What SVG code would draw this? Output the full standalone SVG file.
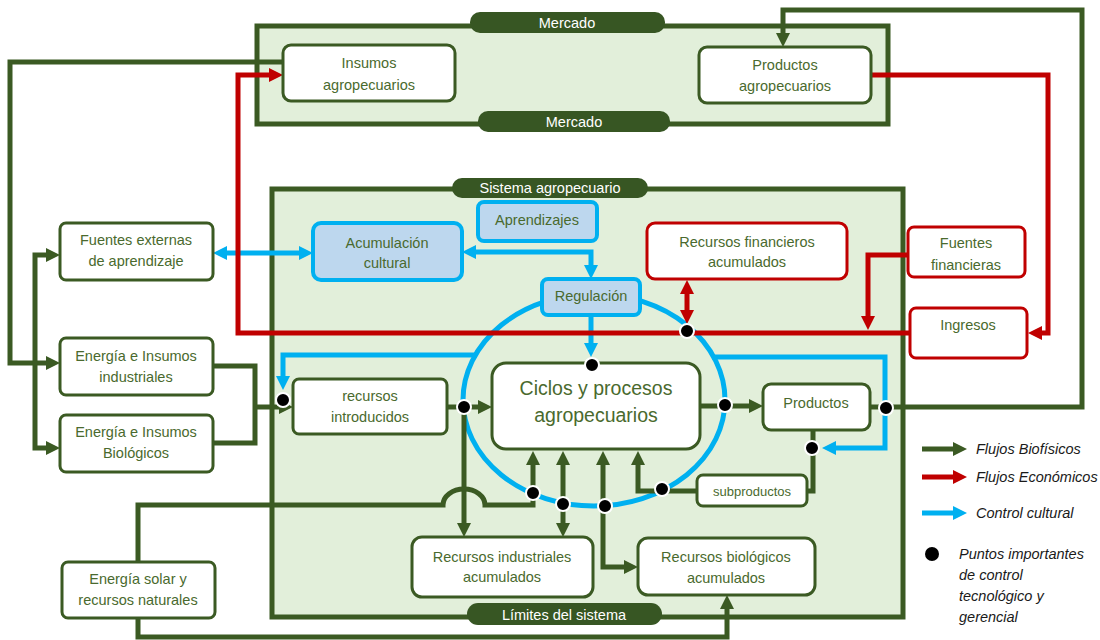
<svg xmlns="http://www.w3.org/2000/svg" width="1100" height="640" viewBox="0 0 1100 640">
<defs>
<style>
.cont{fill:#e2efda;stroke:#3b5a23;stroke-width:5}
.pill{fill:#375623}
.pt{font-family:"Liberation Sans",Arial,sans-serif;font-size:14.5px;fill:#ffffff;text-anchor:middle;dominant-baseline:central}
.gb{fill:#ffffff;stroke:#3b5a23;stroke-width:3}
.rb{fill:#ffffff;stroke:#c00000;stroke-width:3}
.bb{fill:#bdd7ee;stroke:#00b0f0;stroke-width:4}
.t{font-family:"Liberation Sans",Arial,sans-serif;font-size:14.5px;fill:#4a6a2e;text-anchor:middle;dominant-baseline:central}
.big{font-size:19.5px}
.sm{font-size:13px}
.lg{font-family:"Liberation Sans",Arial,sans-serif;font-size:14.5px;font-style:italic;fill:#1a1a1a;dominant-baseline:central}
.g{fill:none;stroke:#3b5a23;stroke-width:5}
.r{fill:none;stroke:#c00000;stroke-width:5}
.b{fill:none;stroke:#00b0f0;stroke-width:5}
.dot{fill:#000000;stroke:#ffffff;stroke-width:2}
</style>
<marker id="ag" viewBox="0 0 14 14" refX="4" refY="7" markerWidth="14" markerHeight="14" markerUnits="userSpaceOnUse" orient="auto-start-reverse"><path d="M0,0 L14,7 L0,14 z" fill="#3b5a23"/></marker>
<marker id="ar" viewBox="0 0 14 14" refX="4" refY="7" markerWidth="14" markerHeight="14" markerUnits="userSpaceOnUse" orient="auto-start-reverse"><path d="M0,0 L14,7 L0,14 z" fill="#c00000"/></marker>
<marker id="ab" viewBox="0 0 14 14" refX="4" refY="7" markerWidth="14" markerHeight="14" markerUnits="userSpaceOnUse" orient="auto-start-reverse"><path d="M0,0 L14,7 L0,14 z" fill="#00b0f0"/></marker>
</defs>
<rect width="1100" height="640" fill="#ffffff"/>

<g id="mercado">
<rect class="cont" x="257" y="26" width="631" height="98"/>
<rect class="pill" x="470" y="12" width="195" height="21" rx="10"/>
<text class="pt" x="567" y="22.5">Mercado</text>
<rect class="pill" x="478" y="111" width="192" height="21" rx="10"/>
<text class="pt" x="574" y="121.5">Mercado</text>
</g>
<g id="sistema">
<rect class="cont" x="272" y="189" width="631" height="428"/>
</g>

<g id="connectors">
<ellipse class="b" cx="594" cy="400" rx="131" ry="106"/>
<path class="b" d="M223,253 H303" marker-start="url(#ab)" marker-end="url(#ab)"/>
<path class="b" d="M472,252 H591 V269" marker-start="url(#ab)" marker-end="url(#ab)"/>
<path class="b" d="M591,315 V347" marker-end="url(#ab)"/>
<path class="b" d="M477,355 H283 V380" marker-end="url(#ab)"/>
<path class="b" d="M712,357 H885 V448 H832" marker-end="url(#ab)"/>

<path class="r" d="M872,75 H1048 V333 H1038" marker-end="url(#ar)"/>
<path class="r" d="M910,333 H238 V75 H273" marker-end="url(#ar)"/>
<path class="r" d="M908,255 H868 V320" marker-end="url(#ar)"/>
<path class="r" d="M687,290 V314" marker-start="url(#ar)" marker-end="url(#ar)"/>

<path class="g" d="M283,62 H10 V363 H50" marker-end="url(#ag)"/>
<path class="g" d="M50,255 H35 V448 H50" marker-start="url(#ag)" marker-end="url(#ag)"/>
<path class="g" d="M213,366 H255 V443 H213"/>
<path class="g" d="M255,407 H283" marker-end="url(#ag)"/>
<path class="g" d="M447,407 H482" marker-end="url(#ag)"/>
<path class="g" d="M464,407 V527" marker-end="url(#ag)"/>
<path class="g" d="M138,562 V505 H443 A21,16 0 0 1 485,505 H533 V461" marker-end="url(#ag)"/>
<path class="g" d="M563,461 V527" marker-start="url(#ag)" marker-end="url(#ag)"/>
<path class="g" d="M603,461 V567 H628" marker-start="url(#ag)" marker-end="url(#ag)"/>
<path class="g" d="M697,491 H638 V461" marker-end="url(#ag)"/>
<path class="g" d="M813,430 V491 H807"/>
<path class="g" d="M700,406 H753" marker-end="url(#ag)"/>
<path class="g" d="M870,407 H1082 V10 H783 V37" marker-end="url(#ag)"/>
<path class="g" d="M138,618 V637 H727 V605" marker-end="url(#ag)"/>
</g>

<g id="pill-sistema">
<rect class="pill" x="452" y="178" width="196" height="20" rx="10"/>
<text class="pt" x="550" y="187.5">Sistema agropecuario</text>
</g>
<g id="pill-limites">
<rect class="pill" x="467" y="603" width="195" height="22" rx="11"/>
<text class="pt" x="564" y="614.5">Límites del sistema</text>
</g>

<g id="insumos-agro">
<rect class="gb" x="283" y="45" width="172" height="56" rx="8"/>
<text class="t" x="369" y="63">Insumos</text>
<text class="t" x="369" y="85">agropecuarios</text>
</g>
<g id="productos-agro">
<rect class="gb" x="699" y="47" width="172" height="56" rx="8"/>
<text class="t" x="785" y="65">Productos</text>
<text class="t" x="785" y="86">agropecuarios</text>
</g>
<g id="fuentes-externas">
<rect class="gb" x="60" y="223" width="153" height="57" rx="6"/>
<text class="t" x="136" y="240">Fuentes externas</text>
<text class="t" x="136" y="261">de aprendizaje</text>
</g>
<g id="energia-industriales">
<rect class="gb" x="60" y="338" width="153" height="57" rx="6"/>
<text class="t" x="136" y="356">Energía e Insumos</text>
<text class="t" x="136" y="377">industriales</text>
</g>
<g id="energia-biologicos">
<rect class="gb" x="60" y="415" width="153" height="57" rx="6"/>
<text class="t" x="136" y="432">Energía e Insumos</text>
<text class="t" x="136" y="453">Biológicos</text>
</g>
<g id="energia-solar">
<rect class="gb" x="62" y="562" width="153" height="56" rx="6"/>
<text class="t" x="138" y="579">Energía solar y</text>
<text class="t" x="138" y="600">recursos naturales</text>
</g>
<g id="acumulacion">
<rect class="bb" x="313" y="223" width="149" height="57" rx="8"/>
<text class="t" x="387" y="243">Acumulación</text>
<text class="t" x="387" y="263">cultural</text>
</g>
<g id="aprendizajes">
<rect class="bb" x="478" y="202" width="119" height="39" rx="6"/>
<text class="t" x="537" y="220">Aprendizajes</text>
</g>
<g id="regulacion">
<rect class="bb" x="542" y="279" width="98" height="36" rx="6"/>
<text class="t" x="591" y="296">Regulación</text>
</g>
<g id="recursos-financieros">
<rect class="rb" x="647" y="223" width="200" height="56" rx="8"/>
<text class="t" x="747" y="242">Recursos financieros</text>
<text class="t" x="747" y="262">acumulados</text>
</g>
<g id="fuentes-financieras">
<rect class="rb" x="908" y="227" width="117" height="50" rx="6"/>
<text class="t" x="966" y="243">Fuentes</text>
<text class="t" x="966" y="265">financieras</text>
</g>
<g id="ingresos">
<rect class="rb" x="910" y="308" width="117" height="50" rx="6"/>
<text class="t" x="968" y="325">Ingresos</text>
</g>
<g id="recursos-introducidos">
<rect class="gb" x="293" y="379" width="154" height="55" rx="6"/>
<text class="t" x="370" y="396">recursos</text>
<text class="t" x="370" y="417">introducidos</text>
</g>
<g id="ciclos">
<rect class="gb" x="492" y="363" width="208" height="86" rx="14"/>
<text class="t big" x="596" y="388">Ciclos y procesos</text>
<text class="t big" x="596" y="415">agropecuarios</text>
</g>
<g id="productos">
<rect class="gb" x="763" y="384" width="107" height="46" rx="8"/>
<text class="t" x="816" y="403">Productos</text>
</g>
<g id="subproductos">
<rect class="gb" x="697" y="475" width="110" height="31" rx="6"/>
<text class="t sm" x="752" y="491">subproductos</text>
</g>
<g id="recursos-industriales">
<rect class="gb" x="412" y="537" width="181" height="60" rx="10"/>
<text class="t" x="502" y="557">Recursos industriales</text>
<text class="t" x="502" y="577">acumulados</text>
</g>
<g id="recursos-biologicos">
<rect class="gb" x="638" y="538" width="177" height="57" rx="10"/>
<text class="t" x="726" y="557">Recursos biológicos</text>
<text class="t" x="726" y="578">acumulados</text>
</g>

<g id="dots">
<circle class="dot" cx="283" cy="400" r="7"/>
<circle class="dot" cx="464" cy="407" r="7"/>
<circle class="dot" cx="592" cy="365" r="7"/>
<circle class="dot" cx="687" cy="331" r="7"/>
<circle class="dot" cx="725" cy="405" r="7"/>
<circle class="dot" cx="886" cy="408" r="7"/>
<circle class="dot" cx="812" cy="448" r="7"/>
<circle class="dot" cx="533" cy="493" r="7"/>
<circle class="dot" cx="563" cy="504" r="7"/>
<circle class="dot" cx="605" cy="506" r="7"/>
<circle class="dot" cx="662" cy="489" r="7"/>
</g>

<g id="legend">
<path class="g" d="M922,449 H957" marker-end="url(#ag)"/>
<text class="lg" x="976" y="449">Flujos Biofísicos</text>
<path class="r" d="M922,477 H957" marker-end="url(#ar)"/>
<text class="lg" x="976" y="477">Flujos Económicos</text>
<path class="b" d="M922,513 H957" marker-end="url(#ab)"/>
<text class="lg" x="976" y="513">Control cultural</text>
<circle cx="932" cy="554" r="7" fill="#000000"/>
<text class="lg" x="959" y="554">Puntos importantes</text>
<text class="lg" x="959" y="575">de control</text>
<text class="lg" x="959" y="596">tecnológico y</text>
<text class="lg" x="959" y="617">gerencial</text>
</g>
</svg>
